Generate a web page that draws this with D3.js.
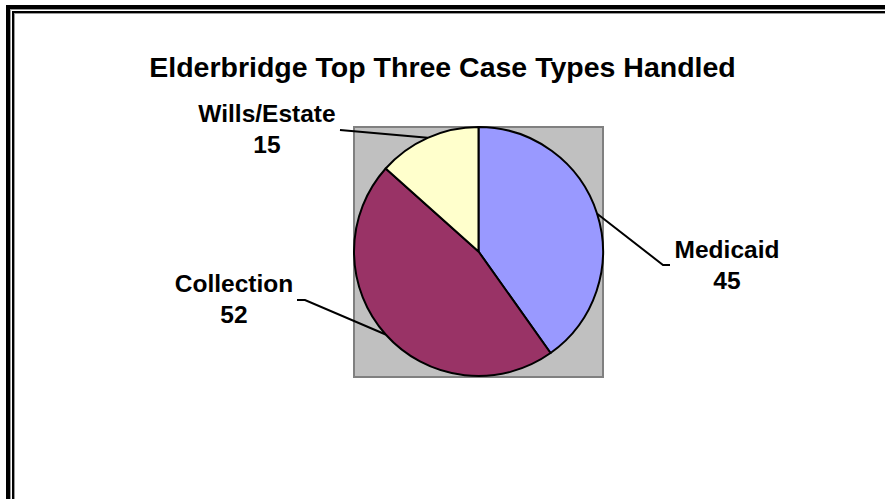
<!DOCTYPE html>
<html>
<head>
<meta charset="utf-8">
<script src="https://cdn.jsdelivr.net/npm/d3@7"></script>
<style>
  html, body { margin: 0; padding: 0; background: #fff; }
  svg { display: block; }
  text { font-family: "Liberation Sans", Arial, sans-serif; font-weight: bold; fill: #000; }
</style>
</head>
<body>
<svg id="chart" width="885" height="499"></svg>
<script>
// Case counts by type
const chartTitle = "Elderbridge Top Three Case Types Handled";
const categories = ["Medicaid", "Collection", "Wills/Estate"];
const values = [45, 52, 15];
const sliceColors = ["#9999FF", "#993366", "#FFFFCC"];

// Label placement: text centre, first baseline, leader elbow points
const labelLayout = [
  { x: 727, y: 258, leader: [[663, 265], [670, 265]] },
  { x: 234, y: 292, leader: [[305, 300], [297, 300]] },
  { x: 267, y: 122, leader: [[340, 130]] }
];

const W = 885, H = 499;
const svg = d3.select("#chart");

// Double frame (right and bottom edges run past the page)
svg.append("rect").attr("x", 8).attr("y", 7).attr("width", W + 20).attr("height", H + 20)
  .attr("fill", "none").attr("stroke", "#000").attr("stroke-width", 4);
svg.append("rect").attr("x", 10.5).attr("y", 9.5).attr("width", W + 20).attr("height", H + 20)
  .attr("fill", "none").attr("stroke", "#9a9a9a").attr("stroke-width", 1);
svg.append("rect").attr("x", 13).attr("y", 12).attr("width", W + 20).attr("height", H + 20)
  .attr("fill", "none").attr("stroke", "#000").attr("stroke-width", 2);
svg.append("rect").attr("x", 14.5).attr("y", 13.5).attr("width", W + 20).attr("height", H + 20)
  .attr("fill", "none").attr("stroke", "#9a9a9a").attr("stroke-width", 1);

// Title
svg.append("text")
  .attr("x", W / 2).attr("y", 77)
  .attr("text-anchor", "middle")
  .attr("font-size", 28.5)
  .text(chartTitle);

// Plot area
const plot = { x: 354, y: 127, w: 249, h: 250 };
svg.append("rect")
  .attr("x", plot.x).attr("y", plot.y).attr("width", plot.w).attr("height", plot.h)
  .attr("fill", "#C0C0C0").attr("stroke", "#808080").attr("stroke-width", 2);

const cx = 478.5, cy = 251.5, radius = 124.5;
const color = d3.scaleOrdinal().domain(categories).range(sliceColors);

const pie = d3.pie().sort(null).value((d, i) => values[i]);
const arcs = pie(categories);
const arc = d3.arc().innerRadius(0).outerRadius(radius);

const g = svg.append("g").attr("transform", `translate(${cx},${cy})`);
g.selectAll("path.slice")
  .data(arcs)
  .join("path")
  .attr("class", "slice")
  .attr("d", arc)
  .attr("fill", d => color(d.data))
  .attr("stroke", "#000")
  .attr("stroke-width", 2)
  .attr("stroke-linejoin", "round");

// Leader lines from each slice's outer midpoint to its label
arcs.forEach((d, i) => {
  const mid = (d.startAngle + d.endAngle) / 2;
  const start = [cx + radius * Math.sin(mid), cy - radius * Math.cos(mid)];
  const pts = [start].concat(labelLayout[i].leader);
  svg.append("path")
    .attr("d", d3.line()(pts))
    .attr("fill", "none")
    .attr("stroke", "#000")
    .attr("stroke-width", 2);
});

// Labels: category name and value
arcs.forEach((d, i) => {
  const t = svg.append("text")
    .attr("text-anchor", "middle")
    .attr("font-size", 24.5);
  t.append("tspan").attr("x", labelLayout[i].x).attr("y", labelLayout[i].y).text(categories[i]);
  t.append("tspan").attr("x", labelLayout[i].x).attr("y", labelLayout[i].y + 31).text(values[i]);
});
</script>
</body>
</html>
